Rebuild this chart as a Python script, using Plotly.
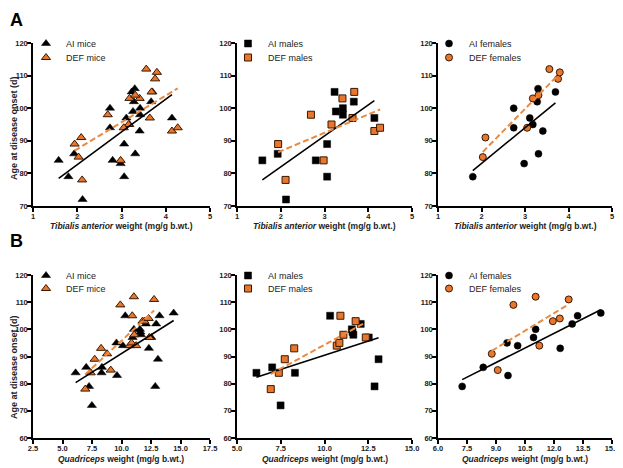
import numpy as np
import plotly.graph_objects as go

# ---------------- data ----------------
# Tibialis anterior weight (mg/g b.wt.) vs age at onset (d)
ta_ai_m_x = [1.58, 1.93, 2.12, 2.80, 3.06, 3.06, 3.23, 3.26, 3.42, 3.42, 3.67, 4.14]
ta_ai_m_y = [84, 86, 72, 84, 89, 79, 105, 99, 100, 98, 102, 97]
ta_def_m_x = [1.94, 2.11, 2.69, 2.98, 3.16, 3.41, 3.64, 3.68, 4.14, 4.27]
ta_def_m_y = [89, 78, 98, 84, 95, 103, 97, 105, 93, 94]
ta_ai_f_x = [1.80, 2.74, 2.74, 2.98, 3.11, 3.18, 3.28, 3.30, 3.31, 3.41, 3.70]
ta_ai_f_y = [79, 100, 94, 83, 97, 95, 102, 106, 86, 93, 105]
ta_def_f_x = [2.03, 2.09, 3.05, 3.18, 3.31, 3.56, 3.76, 3.80]
ta_def_f_y = [85, 91, 94, 103, 104, 112, 109, 111]

# Quadriceps weight (mg/g b.wt.) vs age at onset (d)
q_ai_m_x = [6.11, 7.01, 7.49, 8.31, 10.32, 11.56, 11.60, 11.65, 12.07, 12.53, 12.86, 13.09]
q_ai_m_y = [84, 86, 72, 84, 105, 100, 99, 98, 102, 97, 79, 89]
q_def_m_x = [6.93, 7.39, 7.73, 8.27, 10.70, 10.85, 10.91, 11.08, 11.78, 12.36]
q_def_m_y = [78, 84, 89, 93, 94, 95, 105, 98, 103, 97]
q_ai_f_x = [7.25, 8.34, 9.57, 9.62, 10.12, 10.94, 11.05, 12.32, 12.94, 13.22, 14.42]
q_ai_f_y = [79, 86, 95, 83, 94, 97, 100, 93, 102, 105, 106]
q_def_f_x = [8.78, 9.09, 9.90, 11.05, 11.24, 11.94, 12.30, 12.76]
q_def_f_y = [91, 85, 109, 112, 94, 103, 104, 111]

ta_ticks = [1, 2, 3, 4, 5]
q1_ticks = [2.5, 5.0, 7.5, 10.0, 12.5, 15.0, 17.5]
q2_ticks = [5.0, 7.5, 10.0, 12.5, 15.0]
q3_ticks = [6.0, 7.5, 9.0, 10.5, 12.0, 13.5, 15.0]
ya_ticks = [70, 80, 90, 100, 110, 120]
yb_ticks = [60, 70, 80, 90, 100, 110, 120]

# ---------------- layout helpers ----------------
# the page body adds an 8px margin, so the figure is drawn 8px smaller and
# all positions below are given in window pixels, shifted by that margin
OFF = 8
W, H = 623 - OFF, 468 - OFF
ORANGE = "#E8762C"
ORANGE_LINE = "#EA8A40"
OUTLINE = "#3a1800"
FONT = "Liberation Sans, Arial, sans-serif"


def px_x(p):
    return (p - OFF) / W


def px_y(p):
    return 1 - (p - OFF) / H


col_dom = [(33, 210), (237, 412), (438, 612)]
row_dom = {"A": (206, 43), "B": (438, 275)}

fig = go.Figure()

panels = [
    ("A", 0, ta_ai_m_x + ta_ai_f_x, ta_ai_m_y + ta_ai_f_y, ta_def_m_x + ta_def_f_x, ta_def_m_y + ta_def_f_y,
     "triangle-up", "AI mice", "DEF mice", ta_ticks, ya_ticks),
    ("A", 1, ta_ai_m_x, ta_ai_m_y, ta_def_m_x, ta_def_m_y, "square", "AI males", "DEF males", ta_ticks, ya_ticks),
    ("A", 2, ta_ai_f_x, ta_ai_f_y, ta_def_f_x, ta_def_f_y, "circle", "AI females", "DEF females", ta_ticks, ya_ticks),
    ("B", 0, q_ai_m_x + q_ai_f_x, q_ai_m_y + q_ai_f_y, q_def_m_x + q_def_f_x, q_def_m_y + q_def_f_y,
     "triangle-up", "AI mice", "DEF mice", q1_ticks, yb_ticks),
    ("B", 1, q_ai_m_x, q_ai_m_y, q_def_m_x, q_def_m_y, "square", "AI males", "DEF males", q2_ticks, yb_ticks),
    ("B", 2, q_ai_f_x, q_ai_f_y, q_def_f_x, q_def_f_y, "circle", "AI females", "DEF females", q3_ticks, yb_ticks),
]

# legend symbol centres (window px): x per column, (y AI, y DEF) per row
leg_sym_x = [49, 251, 452]
leg_sym_y = {"A": (43, 57), "B": (275, 288)}

layout = dict(
    width=W, height=H, margin=dict(l=0, r=0, t=0, b=0, autoexpand=False),
    paper_bgcolor="white", plot_bgcolor="white",
    font=dict(family=FONT, color="#222"),
)

leg_n = 0
for i, (row, col, ax, ay, dx, dy, sym, ain, dn, xt, yt) in enumerate(panels, start=1):
    xa = "x" if i == 1 else f"x{i}"
    ya = "y" if i == 1 else f"y{i}"
    msize = 8 if sym == "triangle-up" else 7
    groups = [(ax, ay, ain, "black", "black", 0.5), (dx, dy, dn, ORANGE, OUTLINE, 1)]
    for k, (gx, gy, name, fill, edge, ew) in enumerate(groups):
        leg_n += 1
        leg = "legend" if leg_n == 1 else f"legend{leg_n}"
        fig.add_trace(go.Scatter(x=gx, y=gy, mode="markers", name=name, xaxis=xa, yaxis=ya, legend=leg,
                                 marker=dict(symbol=sym, size=msize, color=fill,
                                             line=dict(color=edge, width=ew))))
        layout[leg] = dict(x=px_x(leg_sym_x[col] - 23), y=px_y(leg_sym_y[row][k] - 14),
                           xanchor="left", yanchor="top", bgcolor="rgba(0,0,0,0)",
                           borderwidth=0, font=dict(family=FONT, size=9, color="#222"))
    # regression lines
    for xs, ys, color, dash, w in ((ax, ay, "black", "solid", 1.6), (dx, dy, ORANGE_LINE, "6px,3px", 2)):
        xs_a = np.array(xs, dtype=float)
        ys_a = np.array(ys, dtype=float)
        m, b = np.polyfit(xs_a, ys_a, 1)
        lx = np.array([xs_a.min(), xs_a.max()])
        fig.add_trace(go.Scatter(x=lx, y=m * lx + b, mode="lines", showlegend=False, xaxis=xa, yaxis=ya,
                                 line=dict(color=color, dash=dash, width=w), hoverinfo="skip"))

    cx0, cx1 = col_dom[col]
    ry0, ry1 = row_dom[row]
    axis_common = dict(showgrid=False, zeroline=False, showline=True, linecolor="black", linewidth=1.5,
                       ticks="outside", ticklen=4, tickwidth=1.5, tickcolor="black", automargin=False,
                       ticklabelstandoff=-2,
                       tickfont=dict(family=FONT, size=7.5, color="#222", weight="bold"))
    xfmt = ".1f" if row == "B" else "d"
    layout["xaxis" if i == 1 else f"xaxis{i}"] = dict(
        domain=[px_x(cx0), px_x(cx1)], anchor=ya, range=[xt[0], xt[-1]], tickvals=xt,
        tickformat=xfmt, **axis_common)
    layout["yaxis" if i == 1 else f"yaxis{i}"] = dict(
        domain=[px_y(ry0), px_y(ry1)], anchor=xa, range=[yt[0], yt[-1]], tickvals=yt, **axis_common)

annotations = [
    dict(text="<b>A</b>", x=px_x(OFF), y=px_y(OFF), xref="paper", yref="paper", showarrow=False,
         xanchor="left", yanchor="top", font=dict(family=FONT, size=18, color="black")),
    dict(text="<b>B</b>", x=px_x(OFF), y=px_y(241), xref="paper", yref="paper", showarrow=False,
         xanchor="left", yanchor="middle", font=dict(family=FONT, size=18, color="black")),
]
for yc in (128, 367):
    annotations.append(dict(text="<b>Age at disease onset (d)</b>", x=px_x(14), y=px_y(yc),
                            xref="paper", yref="paper", showarrow=False, textangle=-90,
                            xanchor="center", yanchor="middle",
                            font=dict(family=FONT, size=9, color="#222")))
for (cx0, cx1) in col_dom:
    annotations.append(dict(text="<b><i>Tibialis anterior</i> weight (mg/g b.wt.)</b>",
                            x=px_x((cx0 + cx1) / 2), y=px_y(226), xref="paper", yref="paper",
                            xanchor="center", yanchor="middle",
                            showarrow=False, font=dict(family=FONT, size=8.5, color="#222")))
    annotations.append(dict(text="<b><i>Quadriceps</i> weight (mg/g b.wt.)</b>",
                            x=px_x((cx0 + cx1) / 2), y=px_y(459), xref="paper", yref="paper",
                            xanchor="center", yanchor="middle",
                            showarrow=False, font=dict(family=FONT, size=8.5, color="#222")))
layout["annotations"] = annotations

fig.update_layout(**layout)
fig.write_html("out.html")
